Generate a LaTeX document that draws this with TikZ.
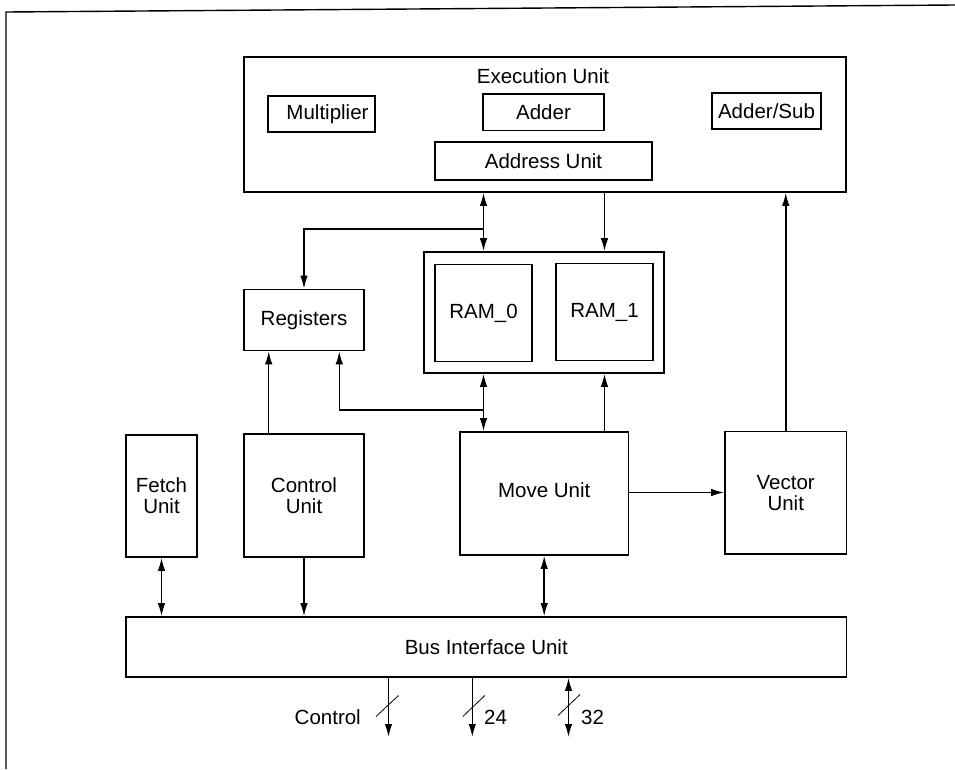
\documentclass[tikz,border=0pt]{standalone}
\usepackage{fontspec}
\setmainfont{Liberation Sans}
\usetikzlibrary{arrows.meta}
\begin{document}
\begin{tikzpicture}[x=1pt,y=-1pt,
  every node/.style={font=\fontsize{20.5}{21}\selectfont},
  box/.style={draw,line width=1.6pt,inner sep=0pt,align=center},
  conn/.style={line width=1.5pt,-{Latex[length=13pt,width=7.5pt]}},
  dconn/.style={line width=1.5pt,{Latex[length=13pt,width=7.5pt]}-{Latex[length=13pt,width=7.5pt]}},
  slash/.style={line width=0.8pt},
  lbl/.style={inner sep=0pt}]
\useasboundingbox (0,0) rectangle (955,769);
% frame
\draw[line width=1.4pt] (6,769) -- (6,12) -- (955,5);
% execution unit
\node[box,minimum width=602pt,minimum height=135pt] (exec) at (545,124.5) {};
\node[lbl] (exect) at (543,76) {Execution Unit};
\node[box,minimum width=107pt,minimum height=36pt] (mult) at (321.5,114) {\hspace*{12pt}Multiplier};
\node[box,minimum width=121pt,minimum height=36.5pt] (adder) at (543.5,112.3) {Adder};
\node[box,minimum width=109pt,minimum height=36pt] (addsub) at (766.5,111) {Adder/Sub};
\node[box,minimum width=217pt,minimum height=38pt] (addr) at (543.5,161) {Address Unit};
% RAM
\node[box,minimum width=240pt,minimum height=121pt] (ramo) at (544,312.5) {};
\node[box,minimum width=97pt,minimum height=97pt] (ram0) at (483.5,313) {RAM\_0};
\node[box,minimum width=97pt,minimum height=97pt] (ram1) at (604.5,312) {RAM\_1};
% registers
\node[box,minimum width=120pt,minimum height=61pt] (regs) at (304,320) {Registers};
% lower units
\node[box,minimum width=71pt,minimum height=122pt] (fetch) at (161.5,496) {Fetch\\Unit};
\node[box,minimum width=120pt,minimum height=123pt] (ctrl) at (304,495.5) {Control\\Unit};
\node[box,minimum width=168.5pt,minimum height=123pt] (move) at (544.2,493.5) {};
\node[lbl] (movet) at (544.2,490) {Move Unit};
\node[box,minimum width=121.5pt,minimum height=122.5pt] (vector) at (785.75,492.75) {Vector\\Unit};
\node[box,minimum width=720.5pt,minimum height=60pt] (bus) at (486.25,647) {Bus Interface Unit};
% connectors top
\coordinate (j1) at (483.5,229);
\coordinate (j2) at (483.5,410);
\draw[dconn] (ram0.center |- exec.south) -- (ram0.center |- ramo.north);
\draw[conn] (j1) -| (regs.north);
\draw[conn] (ram1.center |- exec.south) -- (ram1.center |- ramo.north);
\draw[conn] (vector.north) -- (vector.center |- exec.south);
\draw[conn] ([xshift=-35.3pt]ctrl.north) -- ([xshift=-35.3pt]regs.south);
\draw[conn] (j2) -| ([xshift=35.3pt]regs.south);
\draw[dconn] (ram0.center |- ramo.south) -- (ram0.center |- move.north);
\draw[conn] (ram1.center |- move.north) -- (ram1.center |- ramo.south);
\draw[conn] (move.east |- 0,492.5) -- (vector.west |- 0,492.5);
% connectors to bus
\draw[dconn] (fetch.south) -- (fetch.center |- bus.north);
\draw[conn] (ctrl.south) -- (ctrl.center |- bus.north);
\draw[dconn] (move.south) -- (move.center |- bus.north);
% external lines
\coordinate (o1) at (388.5,737);
\coordinate (o2) at (472.3,737);
\coordinate (o3) at (568.5,737);
\draw[conn] (o1 |- bus.south) -- (o1);
\draw[conn] (o2 |- bus.south) -- (o2);
\draw[dconn] (o3 |- bus.south) -- (o3);
\draw[slash] ([shift={(-12.5,10.5)}]o1 |- 0,706) -- ([shift={(10,-10.5)}]o1 |- 0,706);
\draw[slash] ([shift={(-9.5,10.5)}]o2 |- 0,706) -- ([shift={(12.5,-10.5)}]o2 |- 0,706);
\draw[slash] ([shift={(-10.5,10.5)}]o3 |- 0,705) -- ([shift={(11.5,-10.5)}]o3 |- 0,705);
\node[lbl,anchor=east] (lc) at (361,717) {Control};
\node[lbl,anchor=west] (l24) at (484,717) {24};
\node[lbl,anchor=west] (l32) at (581,717) {32};
\end{tikzpicture}
\end{document}
